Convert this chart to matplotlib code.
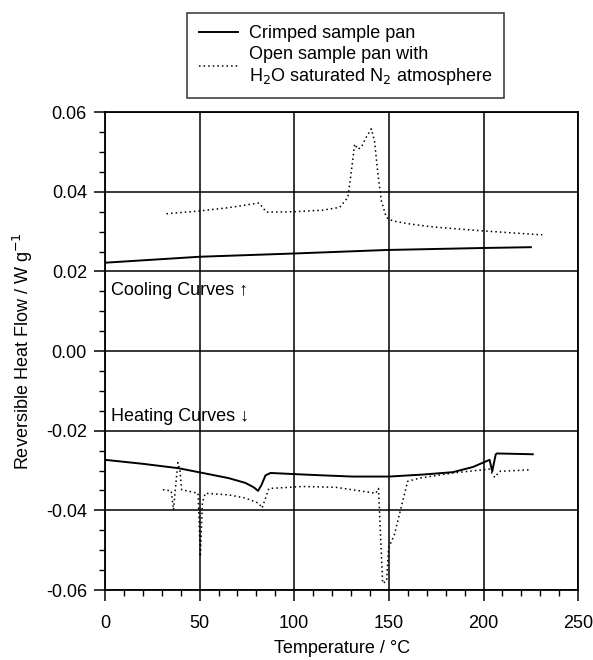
import matplotlib.pyplot as plt
from matplotlib.ticker import MultipleLocator, FormatStrFormatter
from matplotlib.lines import Line2D

plt.rcParams['font.family'] = ['Liberation Sans', 'DejaVu Sans']

# cooling runs (upper half of plot)
cool_crimp_T = [0, 50, 99, 149, 200, 225]
cool_crimp_Q = [0.0222, 0.0237, 0.0245, 0.0254, 0.0259, 0.0261]

cool_open_T = [32.5, 50, 65, 81.4, 85.3, 100, 115, 124, 128.3, 130, 131.9, 133.6,
               135.4, 138, 140.7, 142.4, 144.2, 146, 148.6, 152, 160, 173, 186, 199.5, 215, 231]
cool_open_Q = [0.0345, 0.0352, 0.0360, 0.0372, 0.0349, 0.0350, 0.0354, 0.0361, 0.0386, 0.0445,
               0.0520, 0.0507, 0.0512, 0.0537, 0.0558, 0.0528, 0.0445, 0.0378, 0.0336, 0.0327,
               0.0320, 0.0312, 0.0307, 0.0302, 0.0297, 0.0292]

# heating runs (lower half of plot)
heat_crimp_T = [0, 20, 38.8, 49.5, 65.4, 74.2, 78.6, 80.9, 82.7, 84.8, 87.5, 100.7, 115,
                130.8, 150.2, 167.9, 183.8, 194.4, 203.2, 204.6, 206.4, 207, 226]
heat_crimp_Q = [-0.0273, -0.0283, -0.0294, -0.0304, -0.0319, -0.0331, -0.0342, -0.0351,
                -0.0336, -0.0312, -0.0306, -0.0309, -0.0312, -0.0315, -0.0315, -0.0310,
                -0.0304, -0.0291, -0.0273, -0.0302, -0.0260, -0.0257, -0.0259]

heat_open_T = [30.6, 35, 36.2, 38.5, 39.6, 40.5, 49.2, 50.4, 51.5, 53, 65.4, 74.2, 81.3, 83,
               86.6, 104.3, 121.9, 136.1, 143.1, 144.5, 146.7, 148.8, 149.8, 152.9, 156.4,
               159.9, 166.1, 183.8, 199.6, 203, 205.9, 208.5, 224.4]
heat_open_Q = [-0.0348, -0.0351, -0.0398, -0.0280, -0.0300, -0.0348, -0.0357, -0.0516,
               -0.0380, -0.0357, -0.0361, -0.0369, -0.0382, -0.0394, -0.0345, -0.0340,
               -0.0342, -0.0352, -0.0357, -0.0345, -0.0583, -0.0578, -0.0495, -0.0461,
               -0.0394, -0.0327, -0.0319, -0.0306, -0.0298, -0.0296, -0.0317, -0.0302, -0.0298]

fig = plt.figure(figsize=(5.93, 6.6), dpi=100)
ax = fig.add_axes([0.177, 0.106, 0.798, 0.724])

ax.plot(cool_crimp_T, cool_crimp_Q, color='black', lw=1.4)
ax.plot(heat_crimp_T, heat_crimp_Q, color='black', lw=1.4)
ax.plot(cool_open_T, cool_open_Q, color='black', lw=1.1, ls=(0, (1, 2)))
ax.plot(heat_open_T, heat_open_Q, color='black', lw=1.1, ls=(0, (1, 2)))

ax.set_xlim(0, 250)
ax.set_ylim(-0.06, 0.06)
ax.xaxis.set_major_locator(MultipleLocator(50))
ax.xaxis.set_minor_locator(MultipleLocator(10))
ax.yaxis.set_major_locator(MultipleLocator(0.02))
ax.yaxis.set_minor_locator(MultipleLocator(0.005))
ax.yaxis.set_major_formatter(FormatStrFormatter('%.2f'))
ax.grid(True, which='major', color='black', lw=1.1)
ax.tick_params(which='major', direction='out', length=8, width=1.1, labelsize=13)
ax.tick_params(axis='x', which='major', pad=10)
ax.tick_params(axis='y', which='major', pad=5)
ax.tick_params(which='minor', direction='out', length=4, width=1)
for s in ax.spines.values():
    s.set_linewidth(1.3)

ax.set_xlabel('Temperature / °C', fontsize=13, labelpad=6)
ax.set_ylabel('Reversible Heat Flow / W g$^{-1}$', fontsize=13, labelpad=8)

ax.text(3, 0.0152, 'Cooling Curves \u2191', fontsize=13, va='center')
ax.text(3, -0.0163, 'Heating Curves \u2193', fontsize=13, va='center')

handles = [Line2D([], [], color='black', lw=1.4),
           Line2D([], [], color='black', lw=1.1, ls=(0, (1, 2)))]
labels = ['Crimped sample pan',
          'Open sample pan with\nH$_2$O saturated N$_2$ atmosphere']
leg = fig.legend(handles, labels, loc='upper left', bbox_to_anchor=(0.315, 0.98),
                 borderaxespad=0, fontsize=13, frameon=True, fancybox=False,
                 edgecolor='black', handlelength=2.2, handletextpad=0.6,
                 borderpad=0.65, labelspacing=0.2)
leg.get_frame().set_linewidth(1.1)

fig.savefig('out.png', dpi=100)
